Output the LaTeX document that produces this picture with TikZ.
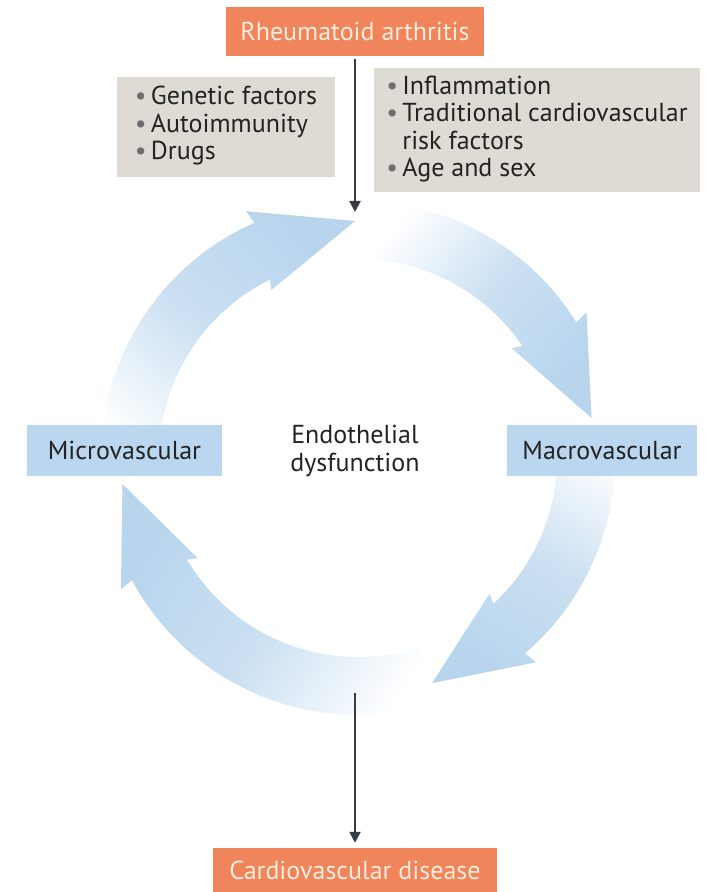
\documentclass[tikz,border=0pt]{standalone}
\usepackage{fontspec}
\setmainfont{PT Sans}
\usetikzlibrary{arrows.meta}

\definecolor{raorange}{RGB}{240,132,90}
\definecolor{racream}{RGB}{253,236,222}
\definecolor{riskgray}{RGB}{221,219,212}
\definecolor{vesselblue}{RGB}{186,215,239}
\definecolor{ringblue}{RGB}{184,213,237}
\definecolor{inkgray}{RGB}{55,61,67}
\definecolor{textdark}{RGB}{35,35,35}
\definecolor{bulletgray}{RGB}{110,110,110}

\newcommand{\bul}{\textcolor{bulletgray}{•}}

% one quarter of the cycle: start angle, outer barb angle, tip angle
\newcommand{\ringarrow}[3]{%
  \pgfmathsetmacro\shadeang{(#1+#3)/2-180}
  \pgfmathsetmacro\outnotch{#2-0.6}
  \pgfmathsetmacro\innotch{#2+1.8}
  \pgfmathsetmacro\inbarb{#2+3}
  \shade[bottom color=white, top color=ringblue, middle color=ringblue!72!white, shading angle=\shadeang]
    (#1:257) arc[start angle=#1, end angle=\outnotch, radius=257] -- (#2:271) -- (#3:237)
    -- (\inbarb:189) -- (\innotch:199) arc[start angle=\innotch, end angle=#1, radius=199] -- cycle;}

\begin{document}
\begin{tikzpicture}[x=1pt, y=1pt,
  every node/.style={font=\fontsize{26}{27.5}\selectfont, text=textdark, inner sep=0pt},
  orangebox/.style={fill=raorange, text=racream},
  graybox/.style={fill=riskgray},
  bluebox/.style={fill=vesselblue},
  link/.style={draw=inkgray, line width=2.2pt, -{Triangle[length=11pt, width=11pt]}}]
 \useasboundingbox (-358,-434) rectangle (355,458);

 \ringarrow{186.3}{114.4}{90.7}
 \ringarrow{90.7}{32.5}{9.7}
 \ringarrow{9.7}{-48.9}{-71.8}
 \ringarrow{288.2}{209}{186.3}

 \node (ra) [orangebox, minimum width=258pt, minimum height=49pt] at (-3,426.5) {Rheumatoid arthritis};
 \node (cvd) [orangebox, minimum width=284pt, minimum height=44pt] at (-3,-412) {Cardiovascular disease};
 \node (genetic) [graybox, minimum width=218pt, minimum height=100pt] at (-132,331)
   {\begin{tabular}{@{}l@{\,}l@{}}
    \bul & Genetic factors\\
    \bul & Autoimmunity\\
    \bul & Drugs
   \end{tabular}};
 \node (traditional) [graybox, minimum width=326pt, minimum height=124pt] at (179,328)
   {\begin{tabular}{@{}l@{\,}l@{}}
    \bul & Inflammation\\
    \bul & Traditional cardiovascular\\
         & risk factors\\
    \bul & Age and sex
   \end{tabular}};
 \node (micro) [bluebox, minimum width=195pt, minimum height=51pt] at (-233.5,7.5) {Microvascular};
 \node (macro) [bluebox, minimum width=190pt, minimum height=51pt] at (244,7.5) {Macrovascular};
 \node (endo) [align=center] at (-3,7) {Endothelial\\dysfunction};

 \coordinate (ringtop) at (-3,246);
 \coordinate (ringbottom) at (-3,-235);
 \draw[link, shorten <=3pt] (ra) -- (ringtop);
 \draw[link, shorten >=5pt] (ringbottom) -- (cvd);
\end{tikzpicture}
\end{document}
